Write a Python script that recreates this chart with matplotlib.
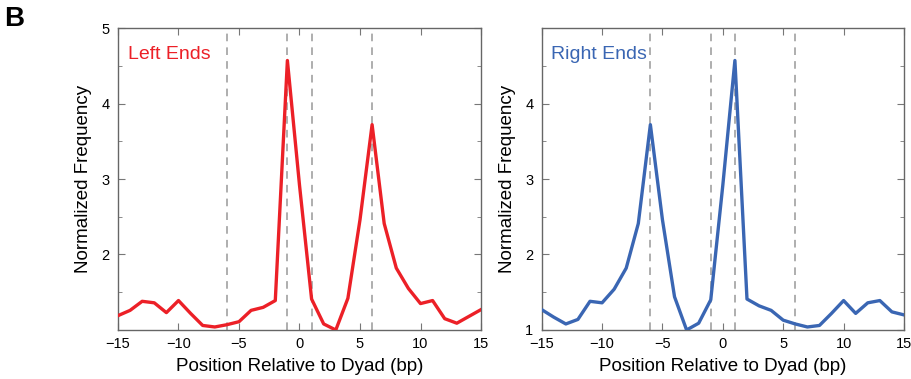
import numpy as np
import matplotlib.pyplot as plt
from matplotlib.ticker import MultipleLocator

plt.rcParams['font.family'] = ['Liberation Sans', 'DejaVu Sans']

# positions relative to the dyad (bp)
positions = list(range(-15, 16))

# normalized frequency of left ends
left_ends = [1.19, 1.26, 1.38, 1.36, 1.23, 1.39, 1.22, 1.06, 1.04, 1.07,
             1.11, 1.26, 1.30, 1.39, 4.57, 2.92, 1.41, 1.08, 1.00, 1.42,
             2.46, 3.72, 2.41, 1.82, 1.55, 1.35, 1.39, 1.15, 1.09, 1.18, 1.27]

# normalized frequency of right ends
right_ends = [1.27, 1.17, 1.08, 1.14, 1.38, 1.36, 1.54, 1.82, 2.41, 3.72,
              2.46, 1.44, 1.00, 1.09, 1.40, 2.92, 4.57, 1.41, 1.32, 1.26,
              1.13, 1.08, 1.04, 1.06, 1.22, 1.39, 1.22, 1.36, 1.39, 1.24, 1.20]

guide_lines = [-6, -1, 1, 6]

panels = [
    ("Left Ends", left_ends, "#ec2027", [2, 3, 4, 5]),
    ("Right Ends", right_ends, "#3a66b3", [1, 2, 3, 4]),
]

fig = plt.figure(figsize=(9.11, 3.79), dpi=100)
rects = [[0.1295, 0.1293, 0.3985, 0.7968], [0.5946, 0.1293, 0.3977, 0.7968]]

for rect, (name, vals, color, yticks) in zip(rects, panels):
    ax = fig.add_axes(rect)
    for gx in guide_lines:
        ax.axvline(gx, color="#999999", linestyle=(0, (5, 4)), linewidth=1.1, zorder=1)
    ax.plot(positions, vals, color=color, linewidth=2.4, zorder=3)
    ax.set_xlim(-15, 15)
    ax.set_ylim(1, 5)
    ax.set_xticks([-15, -10, -5, 0, 5, 10, 15])
    ax.set_xticklabels(["\u221215", "\u221210", "\u22125", "0", "5", "10", "15"])
    ax.set_yticks(yticks)
    ax.yaxis.set_minor_locator(MultipleLocator(0.5))
    ax.tick_params(which="both", direction="in", top=True, right=True,
                   color="#777777", labelsize=10.5)
    ax.tick_params(axis="x", pad=5)
    ax.tick_params(axis="y", pad=6)
    ax.tick_params(which="major", length=5)
    ax.tick_params(which="minor", length=3)
    for sp in ax.spines.values():
        sp.set_color("#666666")
        sp.set_linewidth(1.0)
    ax.set_xlabel("Position Relative to Dyad (bp)", fontsize=13.5, labelpad=5)
    ax.set_ylabel("Normalized Frequency", fontsize=13.5, labelpad=7)
    ax.text(0.027, 0.94, name, transform=ax.transAxes, color=color,
            fontsize=14, va="top", ha="left")

fig.text(0.005, 0.985, "B", fontsize=20, fontweight="bold", va="top", ha="left")

fig.savefig("out.png", dpi=100)
